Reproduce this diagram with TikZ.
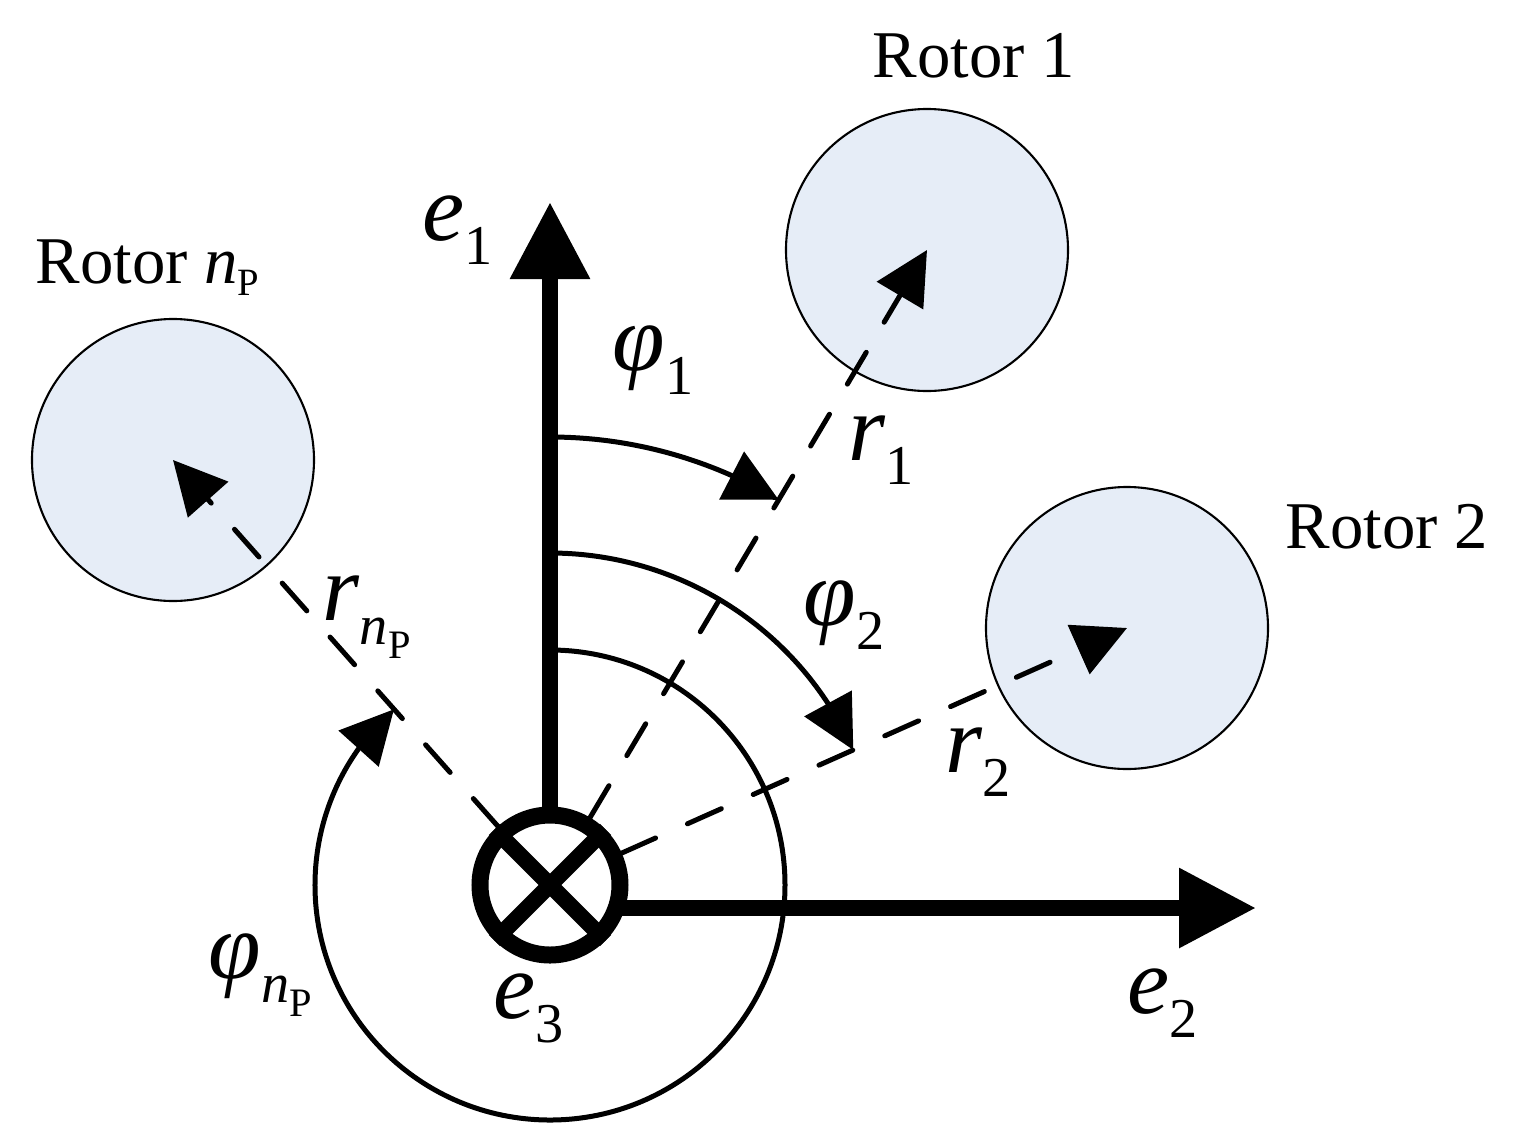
\documentclass[tikz,border=0pt]{standalone}
\usepackage{fontspec}
\setmainfont{Liberation Serif}
\usetikzlibrary{arrows.meta,bending}
\definecolor{rotorfill}{RGB}{230,237,247}
\newcommand{\sbs}[1]{\raisebox{-0.26em}{\fontsize{16pt}{16pt}\selectfont #1}}
\newcommand{\ssbs}[1]{\raisebox{-0.25em}{\fontsize{11.5pt}{11.5pt}\selectfont #1}}
\begin{document}
\begin{tikzpicture}[
  rotor/.style={circle,draw,fill=rotorfill,line width=0.6pt,minimum size=2.82cm,inner sep=0},
  axis/.style={line width=1.6mm,-{Triangle[length=7.7mm,width=7.6mm]}},
  radius line/.style={line width=0.5mm,dash pattern=on 3.7mm off 3.5mm,line cap=round,-{Triangle[length=5.3mm,width=5.3mm]}},
  angle arc/.style={line width=0.5mm,-{Triangle[length=5.3mm,width=5.3mm]}},
  mlab/.style={inner sep=0,anchor=base west,font=\fontsize{27pt}{27pt}\selectfont},
  rlab/.style={inner sep=0,anchor=base west,font=\fontsize{19pt}{19pt}\selectfont}]
\useasboundingbox (-5.50,-2.40) rectangle (9.69,8.85);
% rotors
\node[rotor] (rotor1) at (3.77,6.35) {};
\node[rotor] (rotor2) at (5.77,2.57) {};
\node[rotor] (rotorn) at (-3.77,4.25) {};
% e3 axis, pointing into the page
\node[circle,draw,fill=white,line width=1.7mm,minimum size=1.4cm,inner sep=0] (O) at (0,0) {};
\draw[line width=1.6mm] (O.45) -- (O.225) (O.135) -- (O.315);
% e1 and e2 axes
\coordinate (e1tip) at (0,6.83);
\coordinate (e2tip) at (7.06,-0.23);
\draw[axis] (O.north) -- (e1tip);
\draw[axis] ([shift={(0.66,-0.23)}]O.center) -- (e2tip);
% position vectors
\draw[radius line] (O) -- (rotor1.center);
\draw[radius line] (O) -- (rotor2.center);
\draw[radius line] (O) -- (rotorn.center);
% angles
\draw[angle arc] (O.center) ++(90:4.48) arc[start angle=90,end angle=59.3,radius=4.48];
\draw[angle arc] (O.center) ++(90:3.32) arc[start angle=90,end angle=24,radius=3.32];
\draw[angle arc] (O.center) ++(90:2.35) arc[start angle=90,end angle=-228.4,radius=2.35];
% labels
\node[mlab] (le1) at (-1.28,6.45) {\textit{e}\sbs{1}};
\node[mlab] (le2) at (5.77,-1.28) {\textit{e}\sbs{2}};
\node[mlab] (le3) at (-0.57,-1.33) {\textit{e}\sbs{3}};
\node[mlab] (lphi1) at (0.62,5.15) {\textit{φ}\sbs{1}};
\node[mlab] (lphi2) at (2.53,2.60) {\textit{φ}\sbs{2}};
\node[mlab] (lphin) at (-3.42,-0.93) {\textit{φ}\sbs{\textit{n}\ssbs{P}}};
\node[mlab] (lr1) at (2.98,4.25) {\textit{r}\sbs{1}};
\node[mlab] (lr2) at (3.95,1.13) {\textit{r}\sbs{2}};
\node[mlab] (lrn) at (-2.28,2.65) {\textit{r}\sbs{\textit{n}\ssbs{P}}};
\node[rlab] (lrotor1) at (3.22,8.07) {Rotor 1};
\node[rlab] (lrotor2) at (7.35,3.37) {Rotor 2};
\node[rlab] (lrotorn) at (-5.15,6.02) {Rotor \textit{n}\raisebox{-0.18em}{\fontsize{11pt}{11pt}\selectfont P}};
\end{tikzpicture}
\end{document}
